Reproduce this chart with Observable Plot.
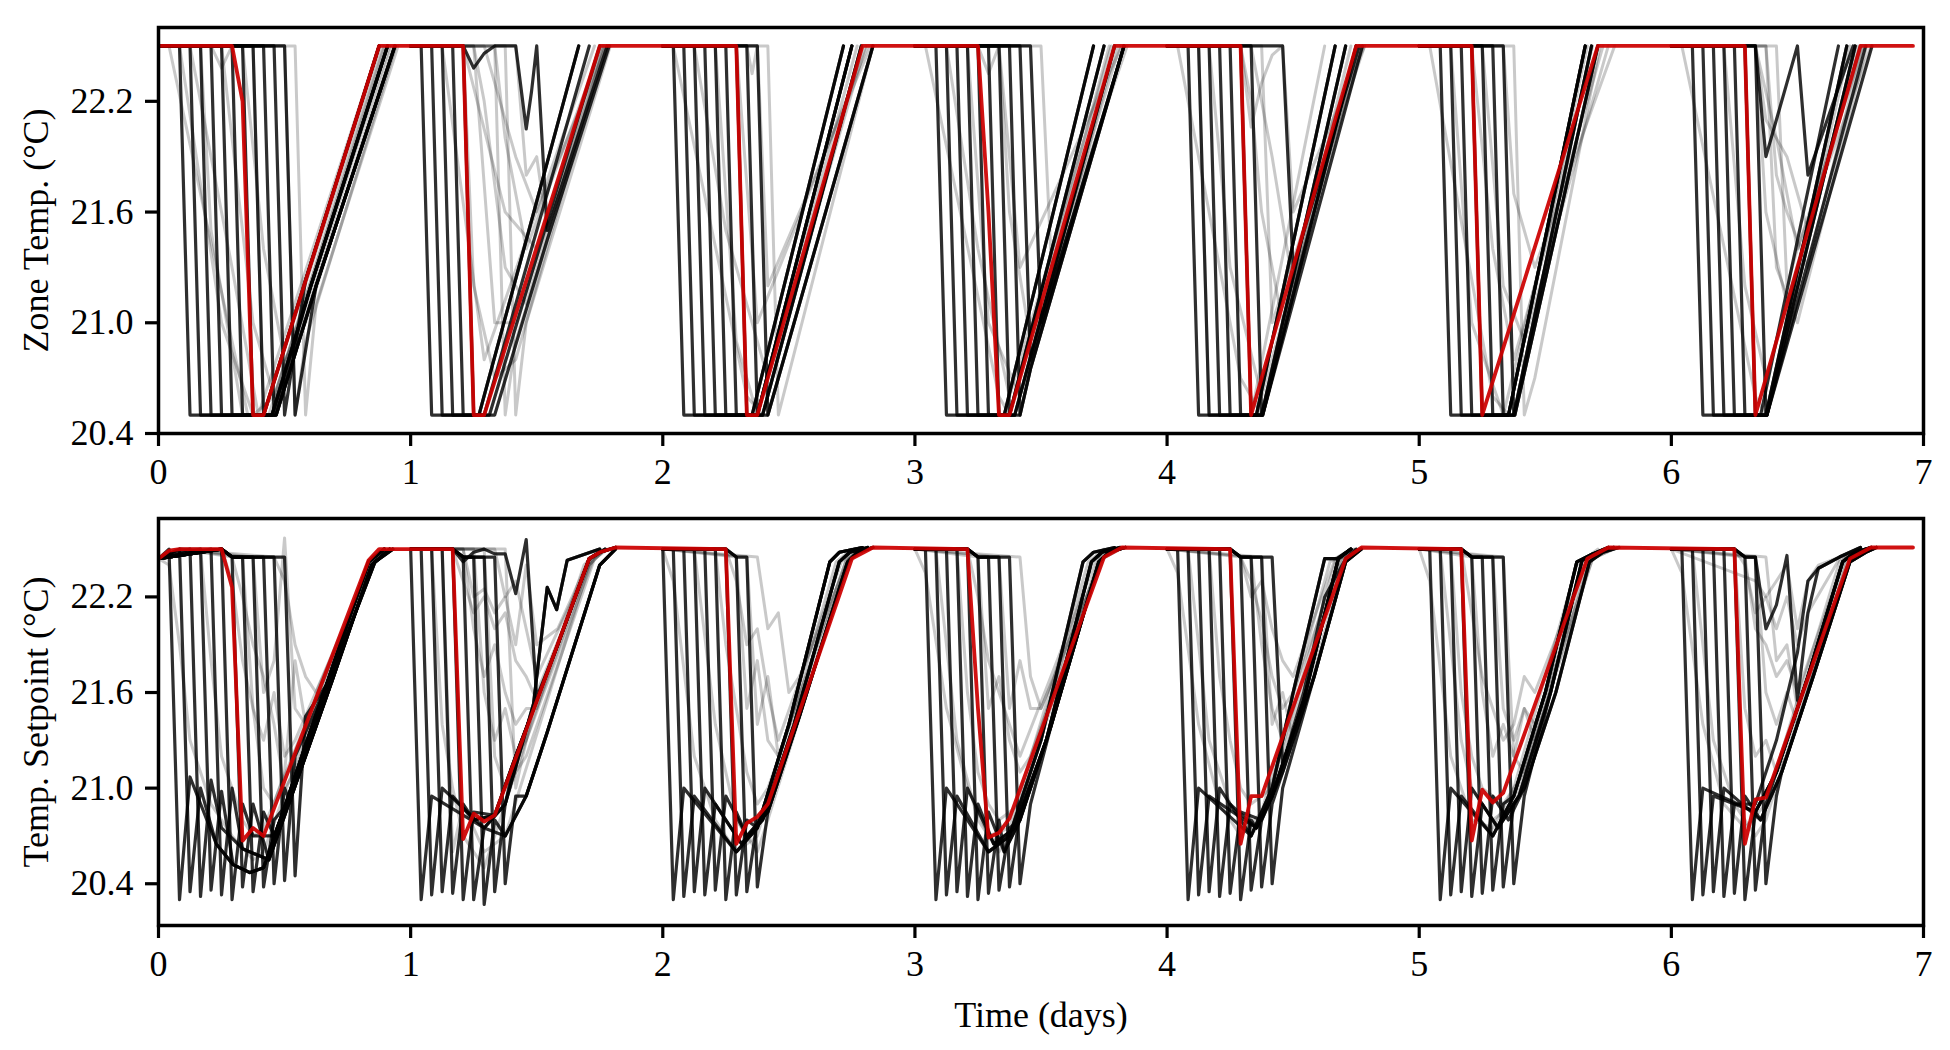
<!DOCTYPE html>
<html><head><meta charset="utf-8">
<script src="https://cdn.jsdelivr.net/npm/d3@7"></script>
<script src="https://cdn.jsdelivr.net/npm/@observablehq/plot@0.6"></script>
<style>
body{margin:0;background:#fff;}
#c{position:relative;width:1950px;height:1050px;background:#fff;}
#c svg{position:absolute;left:0;}
</style></head><body><div id="c"></div>
<script>
// ---------------- DATA ----------------
const xTicks = [0,1,2,3,4,5,6,7];
const yTicks = [20.4, 21.0, 21.6, 22.2];
const zoneLabel = "Zone Temp. (°C)";
const spLabel = "Temp. Setpoint (°C)";
const xLabel = "Time (days)";

// Zone temperature, highlighted (red) trajectory: [hour, °C]
const zoneRed = [[0,22.5],[7,22.5],[8,22.2],[9,20.5],[10,20.5],[21,22.5],
 [29,22.5],[30,20.5],[31,20.5],[42,22.5],
 [55,22.5],[56,20.5],[57,20.5],[67,22.5],
 [78,22.5],[79,21.6],[80,20.5],[81,20.5],[91,22.5],
 [103,22.5],[104,20.5],[114,22.5],
 [125,22.5],[126,20.5],[137,22.5],
 [151,22.5],[152,20.5],[162,22.5],[167,22.5]];

// Zone temp recovery paths per day: [hour of day, °C]
const zonePaths = [
 [[[10,20.5],[14,21.23],[21,22.5]],[[10.8,20.5],[14.5,21.2],[21.8,22.5]],[[11.2,20.5],[15,21.2],[22.5,22.5]]],
 [[[6.5,20.5],[16,22.5]],[[7,20.5],[17,22.5]],[[7.5,20.5],[18,22.5]],[[8,20.5],[13,21.45],[18.9,22.5]]],
 [[[8.5,20.5],[17.2,22.5]],[[9,20.5],[18,22.5]],[[9.5,20.5],[18.9,22.5]],[[10,20.5],[20,22.5]]],
 [[[8.5,20.5],[17,22.5]],[[9,20.5],[18,22.5]],[[9.5,20.5],[19,22.5]],[[10,20.5],[11,20.75],[19.9,22.5]]],
 [[[8.5,20.5],[16,22.5]],[[9,20.5],[17,22.5]],[[9.1,20.5],[18,22.5]],[[9.1,20.5],[18.6,22.5]]],
 [[[8.5,20.5],[15.8,22.5]],[[9,20.5],[16.4,22.5]],[[9.1,20.5],[17,22.5]]],
 [[[8.5,20.5],[15.9,22.5]],[[9,20.5],[16.7,22.5]],[[9.1,20.5],[17.5,22.5]],[[9.1,20.5],[18.5,22.5]],[[9.1,20.5],[19.1,22.5]]]
];
// Zone temp black trajectories per day: [drop hour, path, low °C]
const zoneLines = [
 [[2,1],[3,0],[4,2],[5,1],[6,0],[7,2],[8,1],[9,2],[10,1],[11,0],[12,2]],
 [[1,0],[2,0],[3,1],[4,2],[5,3]],
 [[1,0],[2,0],[3,1],[4,1],[5,2],[6,2],[7,1],[8,3],[9,3]],
 [[2,0],[3,1],[4,0],[5,1],[6,2],[7,2],[8,3],[9,3],[10,3,20.8],[11,3,21.0]],
 [[2,0],[3,1],[4,0],[5,1],[6,2],[7,2],[8,3]],
 [[2,0],[3,1],[4,0],[5,1],[6,2],[7,0],[8,2]],
 [[2,0],[3,1],[4,2],[5,3],[6,1],[7,2],[8,4]]
];
// Extra black zone trajectories: [day, [hour, °C, hour, °C, ...]]
const zoneExtra = [
 [1,[0,22.5,5,22.5,6,22.38,7,22.46,8,22.5,10,22.5,11,22.05,11.5,22.25,12,22.5,13,21.5,18.7,22.5]],
 [4,[0,22.5,11,22.5,12,21.3,18.3,22.5]],
 [6,[0,22.5,8,22.5,9,21.9,10,22.1,11,22.3,12,22.5,13,21.8,17.3,22.5]]
];
// Faint zone trajectories
const zoneGray = [
 [0,[0,22.5,1,22.5,8.5,20.5,10.5,20.5,21.5,22.5]],
 [0,[0,22.5,3,22.5,7,21.3,9.5,20.5,21,22.5]],
 [0,[0,22.5,5,22.5,6,22.38,7,22.5,9,22.5,10,20.5,11,20.5,21.8,22.5]],
 [0,[0,22.5,6,22.5,9,21.0,11,20.6,22,22.5]],
 [0,[0,22.5,12,22.5,13,20.5,14,20.9,22.6,22.5]],
 [0,[0,22.5,13,22.5,14,20.5,15,21.1,22.8,22.5]],
 [0,[0,22.5,4,22.5,5,21.5,8,20.5,10,20.5,21.3,22.5]],
 [0,[0,22.5,8,22.5,10,21.4,12,20.8,14,21.0,22.2,22.5]],
 [0,[0,22.5,2,22.5,6,21.0,9,20.5,11,20.6,21.6,22.5]],
 [1,[0,22.5,5,22.5,9,21.6,12,21.4,18,22.5]],
 [1,[0,22.5,6,22.5,8,21.0,10,21.0,18.5,22.5]],
 [1,[0,22.5,7,22.5,10,21.9,12,21.6,18.6,22.5]],
 [1,[0,22.5,8,22.5,9,22.0,11,21.4,18.2,22.5]],
 [1,[0,22.5,8,22.5,9,20.5,10,20.9,18.8,22.5]],
 [1,[0,22.5,9,22.5,10,20.5,11,21.0,19,22.5]],
 [1,[0,22.5,3,22.5,7,20.8,17.5,22.5]],
 [1,[0,22.5,6,22.5,7,22.2,9,21.3,11,21.1,18.3,22.5]],
 [1,[0,22.5,10,22.5,11,21.8,12,21.9,13,21.5,18.7,22.5]],
 [1,[0,22.5,5,22.5,6,21.2,8,20.7,10,20.8,18.4,22.5]],
 [2,[0,22.5,1,22.5,8,20.6,9.5,20.5,19,22.5]],
 [2,[0,22.5,3,22.5,6,21.5,10,20.7,19.3,22.5]],
 [2,[0,22.5,7,22.5,9,21.0,19.5,22.5]],
 [2,[0,22.5,10,22.5,11,20.5,20,22.5]],
 [2,[0,22.5,8,22.5,8.5,22.35,9,22.5,10,21.2,19.8,22.5]],
 [2,[0,22.5,5,22.5,7,20.9,9,20.5,18.5,22.5]],
 [3,[0,22.5,1,22.5,8,20.6,9,20.5,18.5,22.5]],
 [3,[0,22.5,6,22.5,7,22.35,8,22.5,9,21.6,11,20.9,19.5,22.5]],
 [3,[0,22.5,12,22.5,13,21.3,20.2,22.5]],
 [3,[0,22.5,3,22.5,6,21.4,9,20.6,18.7,22.5]],
 [3,[0,22.5,8,22.5,10,21.3,19.7,22.5]],
 [3,[0,22.5,5,22.5,7,21.0,10,20.6,19.2,22.5]],
 [4,[0,22.5,7,22.5,8,22.06,9,22.3,10,22.45,11,22.5,12,21.6,18.8,22.5]],
 [4,[0,22.5,7,22.5,8,22.2,9,21.6,11,21.0,18.6,22.5]],
 [4,[0,22.5,1,22.5,7,20.7,9,20.5,17.5,22.5]],
 [4,[0,22.5,9,22.5,10,21.0,18.8,22.5]],
 [4,[0,22.5,4,22.5,6,21.3,9,20.6,18.2,22.5]],
 [4,[0,22.5,8,22.5,10,21.9,12,21.2,18.4,22.5]],
 [4,[0,22.5,3,22.5,4,20.5,8,20.5,15,22.5]],
 [5,[0,22.5,9,22.5,10,20.5,11,20.7,17.2,22.5]],
 [5,[0,22.5,1,22.5,7,20.6,8.5,20.5,16,22.5]],
 [5,[0,22.5,5,22.5,7,21.4,9,20.8,17.5,22.5]],
 [5,[0,22.5,6,22.5,8,21.2,10,20.9,18,22.5]],
 [5,[0,22.5,3,22.5,5,21.0,8,20.5,16.5,22.5]],
 [5,[0,22.5,8,22.5,9,21.7,11,21.3,18.6,22.5]],
 [6,[0,22.5,8,22.5,9,21.6,11,21.1,18,22.5]],
 [6,[0,22.5,8,22.5,10,22.0,12,21.4,18.3,22.5]],
 [6,[0,22.5,9,22.5,10,21.3,12,21.0,18.6,22.5]],
 [6,[0,22.5,8,22.5,9,22.1,11,21.9,13,21.5,18,22.5]],
 [6,[0,22.5,1,22.5,8,20.6,9,20.5,17,22.5]],
 [6,[0,22.5,5,22.5,7,21.2,9,20.7,17.8,22.5]],
 [6,[0,22.5,10,22.5,11,21.2,12,21.4,19,22.5]],
 [6,[0,22.5,9,22.5,10,21.8,11,21.6,13,21.3,18.2,22.5]]
];

// Setpoint, highlighted (red) trajectory: [hour, °C]
const spRed = [[0,22.44],[1,22.49],[2,22.5],[6,22.5],[7,22.26],[8,20.67],[9,20.75],[10,20.7],[20,22.43],[21,22.5],
 [28,22.5],[29,20.68],[30,20.84],[31,20.79],[32,20.83],[41,22.44],[42,22.48],[43.5,22.51],
 [54,22.5],[55,20.65],[56,20.78],[57,20.82],[58,20.9],[66,22.44],[68,22.51],
 [77,22.5],[78,21.5],[79,20.69],[80,20.72],[81,20.81],[90,22.45],[91.7,22.51],
 [102,22.5],[103,20.65],[104,20.95],[105,20.95],[113,22.44],[114.5,22.51],
 [124,22.5],[125,20.67],[126,20.99],[127,20.91],[128,20.97],[136,22.44],[138,22.51],
 [150,22.5],[151,20.65],[152,20.93],[153,20.94],[161,22.44],[163,22.51],[167,22.51]];
// hour of day where red setpoint drops (later trajectories sit at 22.45 after it)
const spRedDrop = [6,4,6,5,6,4,6];
// Setpoint recovery paths per day
const spPaths = [
 [[[5.5,20.65],[7.1,20.52],[8.7,20.47],[10,20.5],[12,20.88],[14,21.27],[16,21.65],[20,22.42],[21.5,22.5]],
  [[6,20.75],[8,20.62],[10.5,20.55],[12.5,20.92],[16.5,21.67],[20.3,22.4],[22,22.5]],
  [[7,20.85],[9,20.7],[11,20.7],[13,21.05],[17,21.8],[20.6,22.42],[22.3,22.5]]],
 [[[6,20.8],[8,20.83],[10,21.2],[12,21.55],[14,21.9],[17,22.44],[18,22.48],[19.5,22.51]],
  [[7,20.75],[9,20.9],[11.7,21.53],[13,22.26],[13.9,22.12],[14.9,22.43],[15.8,22.45],[18,22.5]],
  [[9,20.7],[11,20.95],[13,21.35],[18,22.4],[19.5,22.5]]],
 [[[7,20.6],[9,20.75],[12,21.4],[15.9,22.42],[16.8,22.48],[19,22.51]],
  [[7.5,20.65],[9.5,20.8],[12.5,21.4],[16.8,22.42],[17.8,22.48],[19.5,22.51]],
  [[8,20.7],[10,20.85],[13,21.45],[17.6,22.42],[18.5,22.48],[20,22.51]]],
 [[[7,20.6],[9,20.7],[12,21.3],[16,22.42],[17,22.48],[19,22.51]],
  [[7.5,20.65],[9.5,20.75],[12.5,21.3],[16.8,22.42],[17.8,22.48],[19.5,22.51]],
  [[8.5,20.6],[10,20.8],[13,21.4],[17.5,22.42],[18.5,22.48],[20,22.51]]],
 [[[8,20.7],[10,21.0],[12,21.6],[15,22.44],[16.2,22.44],[17.5,22.5]],
  [[8.5,20.75],[10,20.95],[13,21.55],[16.3,22.44],[17.5,22.5]],
  [[9,20.8],[11,21.1],[14,21.7],[17,22.42],[18.5,22.5]]],
 [[[7,20.7],[9,20.95],[12,21.6],[15,22.42],[16.5,22.47],[18,22.51]],
  [[7.5,20.75],[9.5,20.95],[12.5,21.6],[15.5,22.43],[17,22.48],[18.5,22.51]],
  [[8.5,20.8],[10,21.0],[13,21.6],[16.2,22.42],[17.5,22.48],[19,22.51]]],
 [[[8,20.9],[10,21.3],[12,21.85],[13,22.3],[14,22.38],[16,22.45],[18,22.51]],
  [[8,20.85],[10,21.1],[13,21.7],[16.3,22.42],[17.5,22.48],[19,22.51]],
  [[8.5,20.8],[10.5,21.1],[13.5,21.7],[17,22.42],[18.5,22.48],[19.5,22.51]]]
];
// Setpoint black trajectories: [drop hour, spike °C, rebound °C, path]
const spLines = [
 [[1,20.3,21.07,0],[2,20.35,21.0,0],[3,20.32,21.05,1],[4,20.36,20.98,0],[5,20.33,21.0,1],[6,20.3,20.9,2],[7,20.38,20.9,1],[8,20.35,20.85,2],[9,20.38,20.8,0],[10,20.4,21.0,1],[11,20.42,21.2,2],[12,20.45,21.45,0]],
 [[0,20.3,20.95,1],[1,20.33,21.0,1],[2,20.35,20.95,0],[3,20.34,20.9,0],[4,20.3,20.85,0],[5,20.3,20.75,2],[6,20.27,20.8,2],[7,20.35,20.9,0],[8,20.4,20.95,2]],
 [[0,20.3,21.0,0],[1,20.32,20.95,0],[2,20.35,21.0,1],[3,20.33,20.9,1],[4,20.36,20.95,2],[5,20.3,20.85,2],[6,20.33,20.8,0],[7,20.35,20.8,1],[8,20.38,20.85,2]],
 [[1,20.3,21.0,0],[2,20.33,20.95,0],[3,20.35,21.0,1],[4,20.32,20.9,1],[5,20.3,20.85,2],[6,20.34,20.8,2],[7,20.36,20.75,2],[8,20.38,20.85,1],[9,20.4,20.9,2]],
 [[1,20.3,21.0,0],[2,20.33,20.95,1],[3,20.35,21.0,0],[4,20.32,20.9,1],[5,20.34,20.85,2],[6,20.3,20.8,1],[7,20.36,20.8,1],[8,20.38,20.9,2],[9,20.4,21.0,2]],
 [[1,20.3,21.0,0],[2,20.33,20.95,0],[3,20.35,21.0,1],[4,20.32,20.9,1],[5,20.34,20.95,2],[6,20.36,20.9,0],[7,20.38,20.9,2],[8,20.4,20.95,1]],
 [[1,20.3,21.0,1],[2,20.33,20.95,1],[3,20.35,21.0,2],[4,20.32,20.9,0],[5,20.34,20.95,2],[6,20.3,20.85,1],[7,20.36,20.9,1],[8,20.4,20.95,2]]
];
const spExtra = [
 [1,[0,22.5,4,22.5,5,22.42,6,22.48,7,22.5,8,22.47,9,22.47,10,22.22,11,22.56,12,21.57,14,21.9,17,22.44,18.5,22.5]],
 [4,[0,22.5,6,22.5,7,22.45,10,22.45,11,21.15,13,21.6,15,22.2,17,22.44,18,22.5]],
 [6,[0,22.5,6,22.5,7,22.45,8,22.45,9,22.0,10,22.15,11,22.46,12,21.55,13,22.1,14,22.38,16,22.45,18,22.51]]
];
const spGray = [
 [0,[0,22.44,2,22.5,6,22.5,7,22.3,8,21.8,9,21.5,10,21.3,11,21.6,12,21.2,13,21.3,20.5,22.45,21.5,22.5]],
 [0,[0,22.44,2,22.5,7,22.45,8,22.2,9,21.9,10,21.7,11,21.4,12,21.0,13,21.1,20,22.4,21.5,22.5]],
 [0,[0,22.44,2,22.5,9,22.45,10,21.6,11,21.8,12,22.57,13,21.5,14,21.4,20.3,22.45,22,22.5]],
 [0,[0,22.44,2,22.5,4,22.5,5,21.8,6,21.2,7,21.0,8,20.8,9,20.7,10,20.75,20.2,22.42,21.5,22.5]],
 [0,[0,22.44,2,22.5,8,22.45,9,21.5,10,21.0,11,20.9,12,21.1,13,21.8,14,21.4,20.5,22.43,22,22.5]],
 [0,[0,22.44,1,22.4,2,21.9,3,21.3,5,20.9,7,20.7,9,20.55,10,20.6,20,22.42,21.5,22.5]],
 [0,[0,22.44,2,22.5,11,22.45,12,22.3,13,21.9,14,21.7,15,21.6,20.6,22.45,22,22.5]],
 [1,[0,22.5,4,22.5,5,22.3,6,22.1,7,22.2,8,22.0,9,22.1,10,21.8,11,21.7,12,21.55,17,22.44,18.5,22.5]],
 [1,[0,22.5,5,22.5,6,22.0,7,21.7,8,21.9,9,21.6,10,21.4,11,21.5,12,21.5,17.2,22.44,18.5,22.5]],
 [1,[0,22.5,6,22.5,7,21.6,8,21.3,9,21.5,10,21.2,11,21.3,17.4,22.44,18.6,22.5]],
 [1,[0,22.5,7,22.5,8,21.2,9,21.0,10,21.1,11,21.2,17.5,22.44,18.8,22.5]],
 [1,[0,22.5,3,22.5,4,20.6,5,20.9,7,20.6,9,20.7,17,22.4,18.5,22.5]],
 [1,[0,22.5,8,22.5,9,22.2,10,22.3,11,22.0,12,21.7,17.2,22.44,18.5,22.5]],
 [1,[0,22.5,9,22.5,10,21.0,11,21.3,12,21.6,17,22.4,18.5,22.5]],
 [1,[0,22.5,5,22.5,6,22.2,7,22.25,8,22.1,9,22.2,10,21.9,11,22.4,12,21.9,14,22.0,17,22.44,18.5,22.5]],
 [1,[0,22.5,2,22.5,3,21.4,4,21.0,5,20.7,6,20.6,7,20.5,8,20.7,16.5,22.4,18,22.5]],
 [2,[0,22.5,6,22.5,7,22.3,8,21.9,9,22.0,10,21.6,11,21.3,17,22.42,18.5,22.5]],
 [2,[0,22.5,7,22.45,8,21.5,9,21.8,10,21.3,11,21.2,17.5,22.44,19,22.5]],
 [2,[0,22.5,8,22.45,9,21.4,10,21.7,11,21.2,17.4,22.42,19,22.5]],
 [2,[0,22.5,3,22.5,5,21.4,7,20.8,9,20.6,10,20.8,17.5,22.4,19,22.5]],
 [2,[0,22.5,5,22.5,6,21.9,7,21.5,8,21.1,9,20.9,10,21.0,17.8,22.44,19.5,22.5]],
 [2,[0,22.5,1,22.3,3,21.2,5,20.8,7,20.6,9,20.7,16.5,22.42,18,22.5]],
 [2,[0,22.5,9,22.45,10,22.0,11,22.1,12,21.6,13,21.7,17.7,22.44,19,22.5]],
 [3,[0,22.5,5,22.5,6,22.2,7,21.8,8,21.6,9,21.4,10,21.2,17.3,22.44,19,22.5]],
 [3,[0,22.5,6,22.45,7,21.5,8,21.7,9,21.3,10,21.1,11,21.2,17.6,22.44,19.2,22.5]],
 [3,[0,22.5,8,22.45,9,21.5,10,21.8,11,21.5,12,21.5,17.8,22.44,19.5,22.5]],
 [3,[0,22.5,2,22.5,4,21.3,6,20.8,8,20.6,9,20.7,16.8,22.42,18.5,22.5]],
 [3,[0,22.5,4,22.5,5,21.6,6,21.1,7,20.9,8,20.8,10,20.9,17.4,22.42,19,22.5]],
 [3,[0,22.5,10,22.45,11,21.7,12,21.5,17.9,22.44,19.5,22.5]],
 [3,[0,22.5,1,22.35,3,21.5,5,21.0,7,20.7,9,20.75,16.5,22.42,18,22.5]],
 [4,[0,22.5,6,22.5,7,22.45,8,22.2,9,22.3,10,22.0,11,21.8,12,21.7,16,22.44,18,22.5]],
 [4,[0,22.5,7,22.45,8,22.3,9,22.05,10,21.7,11,21.5,12,21.6,16.5,22.44,18,22.5]],
 [4,[0,22.5,8,22.45,9,21.9,10,21.5,11,21.3,12,21.5,16.8,22.44,18.3,22.5]],
 [4,[0,22.5,2,22.5,4,21.3,6,20.9,8,20.7,9,20.8,16,22.42,17.8,22.5]],
 [4,[0,22.5,4,22.5,5,21.7,6,21.3,7,21.0,8,20.9,10,21.0,16.6,22.44,18.2,22.5]],
 [4,[0,22.5,9,22.45,10,21.4,11,21.6,12,21.3,17,22.44,18.5,22.5]],
 [4,[0,22.5,1,22.35,3,21.4,5,20.9,7,20.7,9,20.85,15.5,22.42,17.5,22.5]],
 [5,[0,22.5,4,22.5,5,22.1,6,21.7,7,21.5,8,21.3,9,21.4,10,21.7,11,21.6,16,22.44,18,22.5]],
 [5,[0,22.5,5,22.45,6,21.6,7,21.2,8,21.4,9,21.2,10,21.5,11,21.3,16.3,22.44,18.2,22.5]],
 [5,[0,22.5,7,22.45,8,21.5,9,21.3,10,21.5,11,21.4,16.5,22.44,18.5,22.5]],
 [5,[0,22.5,2,22.5,4,21.3,5,21.0,7,20.8,9,20.9,15.5,22.42,17.5,22.5]],
 [5,[0,22.5,8,22.45,9,21.2,10,21.1,11,21.3,16.5,22.44,18.5,22.5]],
 [5,[0,22.5,1,22.3,3,21.2,5,20.8,7,20.75,9,21.0,15,22.4,17,22.5]],
 [5,[0,22.5,3,22.5,4,21.6,5,21.2,6,21.0,8,20.9,10,21.1,16,22.43,18,22.5]],
 [6,[0,22.5,6,22.5,7,22.4,8,22.1,9,22.2,10,22.0,11,22.2,12,21.9,13,22.1,16,22.44,18,22.5]],
 [6,[0,22.5,7,22.45,8,22.0,9,21.9,10,21.7,11,21.8,12,21.6,16.5,22.44,18.5,22.5]],
 [6,[0,22.5,8,22.45,9,21.6,10,21.4,11,21.6,12,21.4,16.8,22.44,18.8,22.5]],
 [6,[0,22.5,6,22.5,7,21.5,8,21.2,9,21.3,10,21.1,11,21.2,17,22.44,19,22.5]],
 [6,[0,22.5,2,22.5,4,21.3,6,20.9,8,20.7,9,20.8,16.5,22.42,18.5,22.5]],
 [6,[0,22.5,9,22.45,10,21.8,11,21.9,12,21.5,17,22.44,19,22.5]],
 [6,[0,22.5,1,22.35,3,21.4,5,20.9,7,20.75,9,20.9,16,22.42,18,22.5]],
 [6,[0,22.5,8,22.3,9,22.2,10,22.3,11,22.4,12,22.0,13,22.3,14,22.4,16,22.45,18,22.5]]
];

// ---------------- BUILD ROWS ----------------
function rowsFrom(id, day, flat) {
  const out = [];
  for (let i = 0; i < flat.length; i += 2) out.push({id, t: (day * 24 + flat[i]) / 24, v: flat[i + 1]});
  return out;
}
function zoneBlackFlat(d, line) {
  const [drop, pi, low = 20.5] = line;
  const flat = [0, 22.5, drop, 22.5, drop + 1, low];
  for (const [h, v] of zonePaths[d][pi]) if (h > drop + 1) flat.push(h, v);
  return flat;
}
function spBlackFlat(d, line) {
  const [drop, spike, reb, pi] = line;
  const r = spRedDrop[d];
  const flat = d === 0 ? [0, 22.44] : [0, 22.5];
  if (drop > r) flat.push(r, 22.5, r + 1, 22.45, drop, 22.45);
  else flat.push(drop, 22.5);
  flat.push(drop + 1, spike, drop + 2, reb);
  for (const [h, v] of spPaths[d][pi]) if (h > drop + 2) flat.push(h, v);
  return flat;
}

const zGrayRows = zoneGray.flatMap(([d, f], i) => rowsFrom("zg" + i, d, f));
const zBlackRows = zoneLines.flatMap((ls, d) => ls.flatMap((l, j) => rowsFrom(`zb${d}_${j}`, d, zoneBlackFlat(d, l))))
  .concat(zoneExtra.flatMap(([d, f], i) => rowsFrom("ze" + i, d, f)));
const zRedRows = zoneRed.map(([h, v]) => ({t: h / 24, v}));

const sGrayRows = spGray.flatMap(([d, f], i) => rowsFrom("sg" + i, d, f));
const sBlackRows = spLines.flatMap((ls, d) => ls.flatMap((l, j) => rowsFrom(`sb${d}_${j}`, d, spBlackFlat(d, l))))
  .concat(spExtra.flatMap(([d, f], i) => rowsFrom("se" + i, d, f)));
const sRedRows = spRed.map(([h, v]) => ({t: h / 24, v}));

// ---------------- PLOT ----------------
const FONT = "'Liberation Serif', 'Times New Roman', serif";
const FS = 36;
const RED = "#cc0000";

function panel({height, marginTop, marginBottom, domain, gray, black, red, ylabel, xlabel}) {
  const marks = [
    Plot.line(gray, {x: "t", y: "v", z: "id", stroke: "black", strokeOpacity: 0.21, strokeWidth: 3, clip: true}),
    Plot.line(black, {x: "t", y: "v", z: "id", stroke: "black", strokeOpacity: 0.82, strokeWidth: 3.2, clip: true}),
    Plot.line(red, {x: "t", y: "v", stroke: RED, strokeOpacity: 0.93, strokeWidth: 3.8, clip: true}),
    Plot.frame({stroke: "black", strokeWidth: 3.5}),
    Plot.axisX({ticks: xTicks, tickSize: 13, tickPadding: 12, strokeWidth: 3.2, fontSize: FS, label: null, tickFormat: d3.format("d")}),
    Plot.axisY({ticks: yTicks, tickSize: 13, tickPadding: 12, strokeWidth: 3.2, fontSize: FS, label: null, tickFormat: d3.format(".1f")}),
    Plot.text([ylabel], {text: d => d, frameAnchor: "left", rotate: -90, dx: -122, fontSize: FS, textAnchor: "middle"})
  ];
  if (xlabel) marks.push(Plot.text([xlabel], {text: d => d, frameAnchor: "bottom", dy: 101, fontSize: FS, textAnchor: "middle"}));
  return Plot.plot({
    width: 1950, height, marginTop, marginBottom, marginLeft: 158, marginRight: 27,
    x: {domain: [0, 7]},
    y: {domain},
    style: {fontFamily: FONT, fontSize: FS + "px", color: "black", background: "white", overflow: "visible"},
    marks
  });
}

const p1 = panel({height: 490, marginTop: 27, marginBottom: 57, domain: [20.4, 22.6],
  gray: zGrayRows, black: zBlackRows, red: zRedRows, ylabel: zoneLabel});
const p2 = panel({height: 560, marginTop: 28, marginBottom: 125, domain: [20.138, 22.692],
  gray: sGrayRows, black: sBlackRows, red: sRedRows, ylabel: spLabel, xlabel: xLabel});
p1.style.top = "0px";
p2.style.top = "490px";
const c = document.getElementById("c");
c.appendChild(p1);
c.appendChild(p2);
</script>
</body></html>
